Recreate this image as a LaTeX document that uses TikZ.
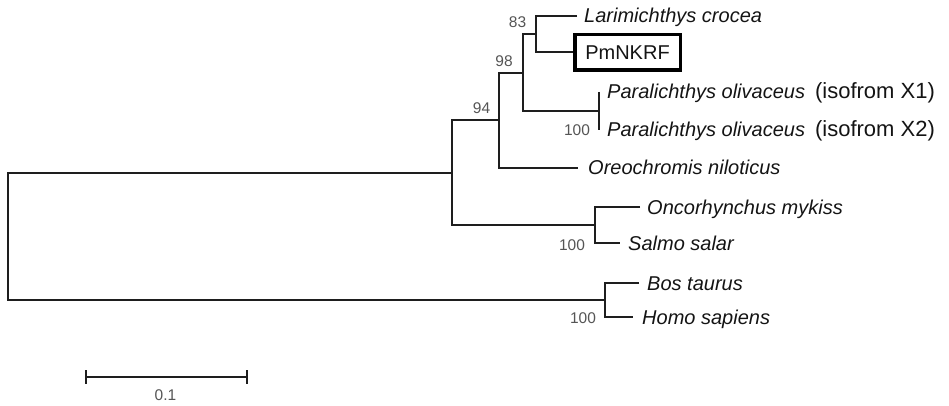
\documentclass[tikz,border=0pt]{standalone}
\usepackage{fontspec}
\setmainfont{Liberation Sans}
\definecolor{treeline}{RGB}{30,30,30}
\definecolor{bootgray}{RGB}{85,85,85}
\definecolor{leaftext}{RGB}{20,20,20}
\begin{document}
\begin{tikzpicture}[x=1pt,y=-1pt,
  branch/.style={draw=treeline, line width=2pt},
  leaflabel/.style={anchor=base west, inner sep=0pt, font=\fontsize{20}{24}\selectfont\itshape, text=leaftext},
  isotext/.style={font=\fontsize{22}{26}\selectfont\upshape},
  boot/.style={inner sep=0pt, font=\fontsize{15.5}{18}\selectfont, text=bootgray},
  markbox/.style={draw=black, line width=3.5pt, minimum width=105.5pt, minimum height=35.5pt, inner sep=0pt, font=\fontsize{20}{24}\selectfont, text=leaftext},
]
\useasboundingbox (0,0) rectangle (949,406);

% leaf ends and internal nodes
\coordinate (lar) at (577,16);
\node[markbox] (pm) at (627.5,52.5) {PmNKRF};
\coordinate (D) at (536,34.25);
\coordinate (x1) at (599,92);
\coordinate (x2) at (599,130);
\coordinate (P) at (599,111);
\coordinate (C) at (523,72.6);
\coordinate (oreo) at (578,168);
\coordinate (B) at (499,120.3);
\coordinate (onc) at (640,207);
\coordinate (sal) at (620,243);
\coordinate (S) at (595,225);
\coordinate (A) at (452,172.65);
\coordinate (bos) at (639,283);
\coordinate (homo) at (633,317);
\coordinate (H) at (605,300);
\coordinate (R) at (8,236.3);

% branches
\draw[branch] (lar) -| (D) |- (pm.west);
\draw[branch] (x1) -| (P) |- (x2);
\draw[branch] (D) -| (C) |- (P);
\draw[branch] (C) -| (B) |- (oreo);
\draw[branch] (onc) -| (S) |- (sal);
\draw[branch] (B) -| (A) |- (S);
\draw[branch] (bos) -| (H) |- (homo);
\draw[branch] (A) -| (R) |- (H);

% leaf labels
\node[leaflabel] (tlar) at (584,23) {Larimichthys crocea};
\node[leaflabel] (tx1) at (607,99) {Paralichthys olivaceus\hspace{10pt}{\fontsize{22}{26}\selectfont\upshape(isofrom X1)}};
\node[leaflabel] (tx2) at (607,137) {Paralichthys olivaceus\hspace{10pt}{\fontsize{22}{26}\selectfont\upshape(isofrom X2)}};
\node[leaflabel] (toreo) at (588,175) {Oreochromis niloticus};
\node[leaflabel] (tonc) at (647,214) {Oncorhynchus mykiss};
\node[leaflabel] (tsal) at (628,250) {Salmo salar};
\node[leaflabel] (tbos) at (647,290) {Bos taurus};
\node[leaflabel] (thomo) at (642,324) {Homo sapiens};

% bootstrap values
\node[boot] (b83) at (517.5,22.5) {83};
\node[boot] (b98) at (504,61) {98};
\node[boot] (b94) at (481.5,108) {94};
\node[boot] (b100p) at (577,130) {100};
\node[boot] (b100s) at (572,245) {100};
\node[boot] (b100h) at (583,318) {100};

% scale bar
\coordinate (sbl) at (86,377);
\coordinate (sbr) at (247,377);
\coordinate (sblt) at (86,370);
\coordinate (sblb) at (86,384);
\coordinate (sbrt) at (247,370);
\coordinate (sbrb) at (247,384);
\draw[branch] (sbl) -- (sbr);
\draw[branch] (sblt) -- (sblb);
\draw[branch] (sbrt) -- (sbrb);
\node[boot] (sblabel) at (165.5,395) {0.1};
\end{tikzpicture}
\end{document}
